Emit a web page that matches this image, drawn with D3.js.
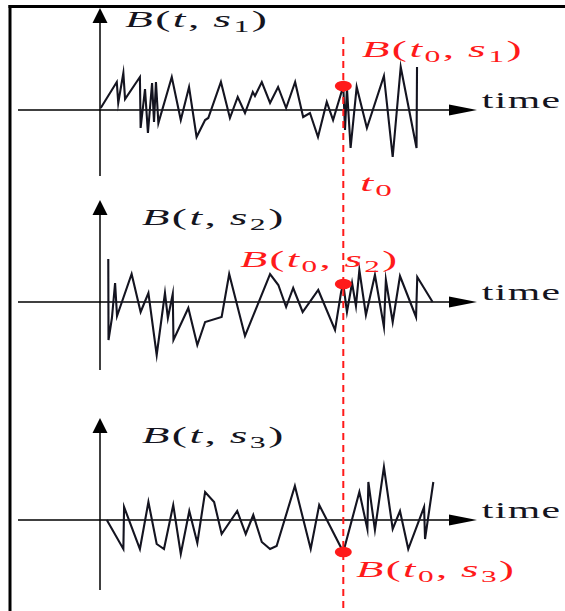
<!DOCTYPE html>
<html>
<head>
<meta charset="utf-8">
<script src="https://cdn.jsdelivr.net/npm/d3@7"></script>
<style>
  html, body { margin: 0; padding: 0; background: #fff; }
  svg { display: block; }
</style>
</head>
<body>
<svg id="chart" width="565" height="611"></svg>
<script>
// Three sample paths B(t, s) of a noisy process, observed at a common time t0.
const t0 = 100;

// path for s1
const time1 = [0.3, 6.9, 7.5, 9.6, 10.3, 16.4, 16.7, 18.5, 19.7, 21.4, 22.2, 23.0, 24.0, 29.5, 33.2, 36.6, 39.7, 43.2, 44.5, 49.7,
  53.4, 56.6, 59.6, 62.8, 63.7, 66.5, 69.9, 73.2, 76.5, 80.2, 83.5, 86.3, 89.6, 93.2, 95.8, 100, 100.7, 101.5, 103.0, 105.5,
  109.7, 116.7, 120.3, 123.6, 130.1, 130.3];
const value1 = [0.2, 2.8, 0.7, 3.7, 1.1, 3.3, -1.8, 2.1, -2.3, 2.7, -1.2, 2.8, -1.3, 3.3, -1.0, 2.3, -2.7, -1.0, -0.8, 2.8,
  -0.8, 1.3, -0.3, 1.8, 1.4, 2.8, 0.7, 2.3, 0.2, 2.8, -0.7, -0.3, -2.7, 0.8, -1.0, 2.4, -2.0, 2.2, -3.8, 2.3,
  -1.8, 3.4, -4.7, 4.3, -3.8, 4.3];

// path for s2
const time2 = [3.4, 3.5, 4.9, 6.2, 7.0, 13.0, 16.7, 19.9, 23.3, 26.7, 27.9, 29.9, 30.2, 36.3, 40.0, 43.2, 50.0, 53.1, 59.6, 69.9,
  73.3, 76.5, 79.4, 83.3, 89.7, 96.6, 99.1, 100, 101.5, 103.6, 105.2, 106.6, 109.3, 113.0, 116.7, 117.5, 120.3, 123.3, 129.9, 130.4,
  136.7];
const value2 = [4.3, -3.8, -1.6, 1.9, -1.4, 2.8, -1.0, 0.9, -5.3, 0.9, -1.6, 0.8, -3.8, -0.6, -4.3, -2.0, -1.5, 2.8, -3.4, 2.8,
  1.7, -0.5, 1.4, -1.0, 1.2, -2.8, 1.0, 1.8, -1.0, 1.9, -0.4, 3.2, -1.3, 2.7, -2.5, 2.2, -2.0, 2.6, -1.5, 2.5,
  0.0];

// path for s3
const time3 = [2.8, 9.6, 9.9, 16.4, 19.9, 23.3, 26.3, 30.1, 33.2, 36.7, 40.0, 43.2, 46.9, 50.0, 56.4, 59.9, 63.0, 66.5, 69.9, 72.6,
  80.1, 86.6, 90.1, 100, 106.6, 109.9, 110.3, 113.0, 116.7, 120.3, 123.3, 126.7, 133.2, 133.6, 137.0];
const value3 = [0.0, -2.9, 1.3, -2.9, 1.8, -2.4, -2.9, 1.5, -3.4, 0.9, -2.3, 2.8, 1.8, -1.4, 0.9, -1.4, 0.5, -2.2, -2.9, -2.6,
  3.4, -2.9, 1.5, -3.2, 2.8, -0.9, 3.8, -1.0, 5.3, -0.9, 0.9, -2.9, 1.3, -1.9, 3.8];

const sampleNames = ["1", "2", "3"];
const timeLabel = "time";

const svg = d3.select("#chart");
const ink = "#141420";
const red = "#ff1a1a";
const serif = "'Liberation Serif', 'DejaVu Serif', serif";

// shared time scale: t = 0 on the vertical axes, t0 on the dashed marker
const x = d3.scaleLinear().domain([0, t0]).range([100, 343.3]);

const panels = [
  { time: time1, value: value1, axisY: 110, up: 102, down: 66, name: sampleNames[0],
    label: { x: 125, y: 27, w: 142 }, mark: { x: 361.7, y: 57, w: 160 } },
  { time: time2, value: value2, axisY: 302, up: 102, down: 68, name: sampleNames[1],
    label: { x: 141.7, y: 225, w: 141.6 }, mark: { x: 240, y: 267, w: 157 } },
  { time: time3, value: value3, axisY: 520, up: 102, down: 70, name: sampleNames[2],
    label: { x: 141.7, y: 443, w: 141.6 }, mark: { x: 356, y: 577, w: 158 } }
];

// frame
svg.append("line").attr("x1", 8.5).attr("x2", 565).attr("y1", 6.5).attr("y2", 6.5)
  .attr("stroke", "#000").attr("stroke-width", 3);
svg.append("line").attr("x1", 10).attr("x2", 10).attr("y1", 5).attr("y2", 611)
  .attr("stroke", "#000").attr("stroke-width", 3);

// Math-style label: parts are {s, i (italic), sub}; widened to the given width,
// partly by letter spacing so the glyph strokes stay thin.
function mathLabel(parts, px, baseline, width, color, size, spacing) {
  const g = svg.append("g");
  const text = g.append("text")
    .attr("font-family", serif)
    .attr("font-size", size)
    .attr("fill", color)
    .attr("letter-spacing", spacing)
    .style("white-space", "pre");
  let shifted = false;
  parts.forEach(p => {
    const ts = text.append("tspan").text(p.s).attr("font-style", p.i ? "italic" : "normal");
    if (p.sub) {
      ts.attr("font-size", size * 0.7);
      if (!shifted) { ts.attr("dy", size * 0.2); shifted = true; }
    } else if (shifted) {
      ts.attr("dy", -size * 0.2);
      shifted = false;
    }
  });
  const bb = text.node().getBBox();
  const w = bb.width - spacing; // trailing spacing after last glyph
  const sx = width / w;
  g.attr("transform", `translate(${px - bb.x * sx},${baseline}) scale(${sx},1)`);
}

const line = d3.line().x(d => d[0]).y(d => d[1]);

panels.forEach(p => {
  const y = d3.scaleLinear().domain([-1, 1]).range([p.axisY + 10, p.axisY - 10]);
  const pts = p.time.map((t, i) => [x(t), y(p.value[i])]);

  // horizontal time axis with arrow head
  svg.append("line").attr("x1", 18).attr("x2", 452).attr("y1", p.axisY).attr("y2", p.axisY)
    .attr("stroke", "#000").attr("stroke-width", 1.5);
  svg.append("path")
    .attr("d", `M477,${p.axisY} L449,${p.axisY - 5.5} L449,${p.axisY + 5.5} Z`)
    .attr("fill", "#000");

  // vertical value axis with arrow head
  const top = p.axisY - p.up;
  svg.append("line").attr("x1", x(0)).attr("x2", x(0)).attr("y1", top + 10).attr("y2", p.axisY + p.down)
    .attr("stroke", "#000").attr("stroke-width", 1.5);
  svg.append("path")
    .attr("d", `M${x(0)},${top} L${x(0) - 7.5},${top + 15} L${x(0) + 7.5},${top + 15} Z`)
    .attr("fill", "#000");

  // sample path
  svg.append("path").attr("d", line(pts))
    .attr("fill", "none").attr("stroke", ink).attr("stroke-width", 2.1)
    .attr("stroke-linejoin", "miter").attr("stroke-miterlimit", 10);

  mathLabel([{ s: timeLabel }], 481.7, p.axisY - 2, 78.3, ink, 24, 0.8);

  mathLabel([{ s: "B", i: 1 }, { s: "(" }, { s: "t", i: 1 }, { s: ",\u2009" }, { s: "s", i: 1 },
    { s: p.name, sub: 1 }, { s: ")" }], p.label.x, p.label.y, p.label.w, ink, 24, 1.3);
});

// dashed marker at t0
svg.append("line").attr("x1", x(t0)).attr("x2", x(t0)).attr("y1", 37).attr("y2", 611)
  .attr("stroke", red).attr("stroke-width", 2).attr("stroke-dasharray", "7,5");

// value of each path at t0
panels.forEach(p => {
  const y = d3.scaleLinear().domain([-1, 1]).range([p.axisY + 10, p.axisY - 10]);
  const v = p.value[p.time.indexOf(t0)];
  svg.append("ellipse").attr("cx", x(t0)).attr("cy", y(v)).attr("rx", 8.5).attr("ry", 5.2).attr("fill", red);
  mathLabel([{ s: "B", i: 1 }, { s: "(" }, { s: "t", i: 1 }, { s: "0", sub: 1 }, { s: ",\u2009" },
    { s: "s", i: 1 }, { s: p.name, sub: 1 }, { s: ")" }], p.mark.x, p.mark.y, p.mark.w, red, 24, 1.3);
});

mathLabel([{ s: "t", i: 1 }, { s: "0", sub: 1 }], 360, 191, 31.7, red, 24, 1);
</script>
</body>
</html>
